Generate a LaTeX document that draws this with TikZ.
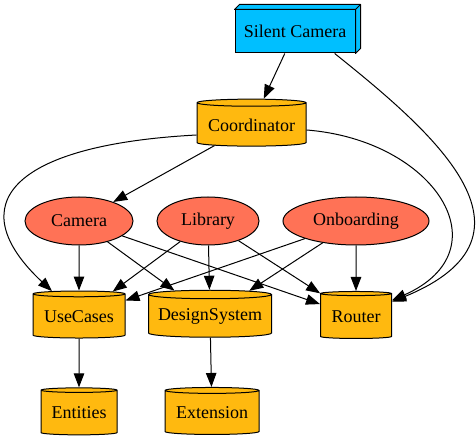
\documentclass[tikz,border=0pt]{standalone}
\usepackage{fontspec}
\setmainfont{Liberation Serif}
\newfontfamily\gvfont{Liberation Serif}
\usetikzlibrary{shapes.geometric,arrows.meta}
\definecolor{appBLU}{HTML}{00BFFF}
\definecolor{featRED}{HTML}{FF7256}
\definecolor{pkgYEL}{HTML}{FFB90F}

\begin{document}
\begin{tikzpicture}[x=1pt, y=-1pt,
  lbl/.style={font=\gvfont\fontsize{18}{20}\selectfont, inner sep=1pt, line width=1pt, draw},
  pkg/.style={lbl, cylinder, shape border rotate=90, aspect=0.08, fill=pkgYEL, minimum height=47pt},
  feat/.style={lbl, ellipse, fill=featRED, minimum height=48pt},
  app/.style={lbl, rectangle, fill=appBLU, minimum width=120pt, minimum height=43pt},
  dep/.style={-{Triangle[length=14pt,width=10.5pt]}, line width=1pt}]
\useasboundingbox (0,0) rectangle (476,443);
% app
\node[app] (silent) at (295,31.5) {Silent Camera};
\draw[fill=appBLU, line width=1pt, line join=round]
  (silent.north west) -- ++(5,-5) -- ([shift={(5,-5)}]silent.north east) -- (silent.north east) -- cycle
  (silent.north east) -- ++(5,-5) -- ([shift={(5,-5)}]silent.south east) -- (silent.south east) -- cycle;
\node[pkg, minimum width=109pt] (coord) at (251.5,125) {Coordinator};
% features
\node[feat, minimum width=108pt] (camera) at (79,221) {Camera};
\node[feat, minimum width=102pt] (library) at (208,221) {Library};
\node[feat, minimum width=146pt] (onboard) at (356,221) {Onboarding};
% packages
\node[pkg, minimum width=92pt] (usecases) at (79,316.5) {UseCases};
\node[pkg, minimum width=123pt] (design) at (210,316.5) {DesignSystem};
\node[pkg, minimum width=71pt] (router) at (356,316.5) {Router};
\node[pkg, minimum width=76pt] (entities) at (79,413) {Entities};
\node[pkg, minimum width=94pt] (extension) at (212,413) {Extension};
% edges
\draw[dep] (silent) -- (coord);
\draw[dep] (silent.-29.5) .. controls (430,130) and (555,235) .. (router);
\draw[dep] ([yshift=-5pt]coord.east) .. controls (435,140) and (505,250) .. (router);
\draw[dep] ([yshift=-10pt]coord.west) .. controls (10,145) and (-40,205) .. (usecases);
\draw[dep] (coord) -- (camera);
\foreach \f in {camera,library,onboard}
  \foreach \p in {usecases,design,router}
    {\draw[dep] (\f) -- (\p);}
\draw[dep] (usecases) -- (entities);
\draw[dep] (design) -- (extension);
\end{tikzpicture}
\end{document}
